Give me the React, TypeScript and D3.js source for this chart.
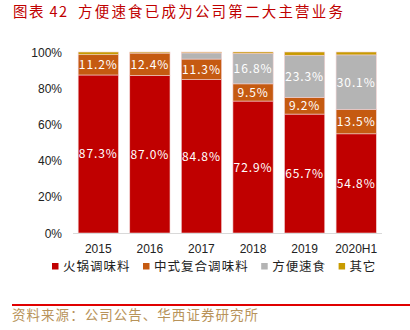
import React from "react";
import * as d3 from "d3";

const categories = ["2015", "2016", "2017", "2018", "2019", "2020H1"];
const seriesNames = ["火锅调味料", "中式复合调味料", "方便速食", "其它"];
const hotpot = [87.3, 87.0, 84.8, 72.9, 65.7, 54.8];
const chinese = [11.2, 12.4, 11.3, 9.5, 9.2, 13.5];
const instant = [0, 0, 3.4, 16.8, 23.3, 30.1];
const other = [1.5, 0.6, 0.5, 0.8, 1.8, 1.6];
const yTicks = [0, 20, 40, 60, 80, 100];
const colors = ["#C00000", "#C55A11", "#B4B4B4", "#C89B00"];
const showLabel = [true, true, true, false];

export default function App() {
  const W = 410, H = 330;
  const x = d3.scaleBand().domain(categories).range([72.5, 382]).paddingInner(0.22).paddingOuter(0.11);
  const y = d3.scaleLinear().domain([0, 100]).range([233, 52]);
  const series = [hotpot, chinese, instant, other];
  const rows = categories.map((c, i) => ({ cat: c, s0: hotpot[i], s1: chinese[i], s2: instant[i], s3: other[i] }));
  const stack = d3.stack<any>().keys(["s0", "s1", "s2", "s3"])(rows);
  const cjk = "'Noto Sans CJK SC', sans-serif";
  const charW = 13.6;
  let lx = 52;
  const legendItems = seriesNames.map((n) => {
    const item = { n, x: lx, w: n.length * charW };
    lx += 11 + item.w + 12;
    return item;
  });
  return (
    <svg width={W} height={H} style={{ position: "absolute", left: 0, top: 0, background: "#fff" }}>
      <text x={13} y={17} fontFamily={cjk} fontSize={14.5} fill="#C00000" textLength={54} lengthAdjust="spacing">
        图表 42
      </text>
      <text x={78} y={17} fontFamily={cjk} fontSize={14.5} fill="#C00000" textLength={265} lengthAdjust="spacing">
        方便速食已成为公司第二大主营业务
      </text>
      {yTicks.map((t) => (
        <text key={t} x={62} y={y(t) + 4.5} textAnchor="end" fontFamily="'Liberation Sans', Arial, sans-serif" fontSize={12} fill="#222">
          {t}%
        </text>
      ))}
      {stack.map((layer, li) =>
        layer.map((d, i) => {
          const h = y(d[0]) - y(d[1]);
          if (h <= 0) return null;
          return (
            <rect key={li + "-" + i} x={x(categories[i])} y={y(d[1])} width={x.bandwidth()} height={h}
              fill={colors[li]} stroke="#f2d0d0" strokeWidth={0.6} />
          );
        })
      )}
      {stack.map((layer, li) =>
        showLabel[li]
          ? layer.map((d, i) => {
              const v = series[li][i];
              if (v < 5) return null;
              return (
                <text key={"l" + li + "-" + i} x={x(categories[i])! + x.bandwidth() / 2} y={y((d[0] + d[1]) / 2) + 4.5}
                  textAnchor="middle" fontFamily={cjk} fontSize={12} fill="#fff" letterSpacing={0.9}>
                  {v.toFixed(1)}%
                </text>
              );
            })
          : null
      )}
      <line x1={73} x2={382} y1={233.5} y2={233.5} stroke="#d9d9d9" strokeWidth={1} />
      {categories.map((c) => (
        <text key={c} x={x(c)! + x.bandwidth() / 2} y={253} textAnchor="middle" fontFamily="'Liberation Sans', Arial, sans-serif" fontSize={12} fill="#222">
          {c}
        </text>
      ))}
      {legendItems.map((it, i) => (
        <g key={it.n}>
          <rect x={it.x} y={263} width={6.5} height={6.5} fill={colors[i]} />
          <text x={it.x + 11} y={271} fontFamily={cjk} fontSize={12.5} fill="#222" textLength={it.w - 1.5} lengthAdjust="spacing">{it.n}</text>
        </g>
      ))}
      <line x1={12} x2={410} y1={305} y2={305} stroke="#E00000" strokeWidth={2} />
      <text x={12} y={320} fontFamily={cjk} fontSize={13.5} fill="#B8935A" textLength={246} lengthAdjust="spacing">
        资料来源：公司公告、华西证券研究所
      </text>
    </svg>
  );
}
